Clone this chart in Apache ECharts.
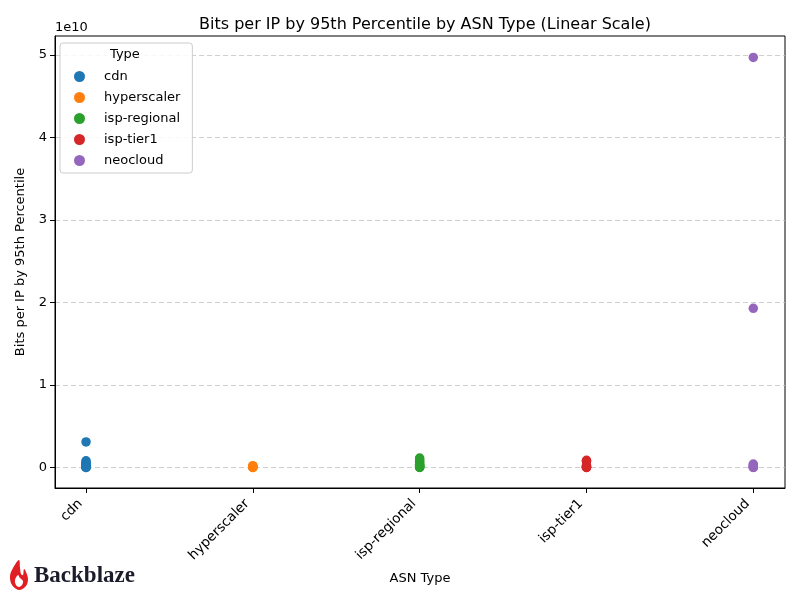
<!DOCTYPE html>
<html><head><meta charset="utf-8">
<script src="https://cdn.jsdelivr.net/npm/echarts@6/dist/echarts.min.js"></script>
<style>html,body{margin:0;padding:0;background:#fff}#c{width:800px;height:600px}</style>
</head><body><div id="c"></div>
<script>
const categories = ['cdn', 'hyperscaler', 'isp-regional', 'isp-tier1', 'neocloud'];
const colors = ['#1f77b4', '#ff7f0e', '#2ca02c', '#d62728', '#9467bd'];
const cdnValues = [3.1e9, 8.2e8, 6.5e8, 5.0e8, 3.6e8, 2.4e8, 1.5e8, 8e7, 4e7, 1.5e7, 5e6];
const hyperscalerValues = [2.2e8, 1.4e8, 8e7, 4e7, 1.5e7, 5e6];
const ispRegionalValues = [1.15e9, 9.5e8, 7.5e8, 5.5e8, 4e8, 2.8e8, 1.8e8, 1e8, 5e7, 2e7, 5e6];
const ispTier1Values = [8.8e8, 7.5e8, 2.5e8, 1.5e8, 8e7, 4e7, 1.5e7, 5e6];
const neocloudValues = [4.97e10, 1.93e10, 4.2e8, 3e8, 1.8e8, 8e7, 2e7, 5e6];
const yTicks = [0, 1e10, 2e10, 3e10, 4e10, 5e10];
const xTicks = [0, 1, 2, 3, 4];

const allValues = [cdnValues, hyperscalerValues, ispRegionalValues, ispTier1Values, neocloudValues];
const font = 'DejaVu Sans';
const chart = echarts.init(document.getElementById('c'), null, {renderer: 'canvas'});
const series = categories.map((name, i) => ({
  name: name,
  type: 'scatter',
  symbolSize: 9.5,
  itemStyle: {color: colors[i], opacity: 1},
  data: allValues[i].map(v => [i, v])
}));
series[0].markLine = {
  silent: true, symbol: 'none', label: {show: false},
  lineStyle: {color: '#c4c4c4', type: [5, 3], width: 0.8},
  data: yTicks.map(v => ({yAxis: v})),
  z: 0
};
chart.setOption({
  animation: false,
  color: colors,
  title: {text: 'Bits per IP by 95th Percentile by ASN Type (Linear Scale)', left: 420, top: 12, textAlign: 'center',
    textStyle: {fontFamily: font, fontSize: 16, fontWeight: 'normal', color: '#000'}},
  grid: {left: 55, right: 15, top: 36, bottom: 112, show: true, borderColor: '#000', borderWidth: 1, containLabel: false},
  legend: {
    orient: 'vertical', left: 60, top: 43, padding: [27, 12, 6, 14],
    borderColor: '#cccccc', borderWidth: 1, borderRadius: 3, backgroundColor: 'rgba(255,255,255,0.85)',
    itemWidth: 11, itemHeight: 11, itemGap: 8, icon: 'circle',
    textStyle: {fontFamily: font, fontSize: 13, color: '#000', padding: [0, 0, 0, 14]},
    data: categories
  },
  xAxis: {
    type: 'value', min: -0.186, max: 4.19,
    name: 'ASN Type', nameLocation: 'middle', nameGap: 84,
    nameTextStyle: {fontFamily: font, fontSize: 13, color: '#000'},
    axisLine: {show: true, onZero: false, lineStyle: {color: '#000'}},
    axisTick: {show: true, length: 5, customValues: xTicks, lineStyle: {color: '#000'}},
    axisLabel: {customValues: xTicks, rotate: 45, fontFamily: font, fontSize: 13.5, color: '#000', margin: 8,
      padding: [0, 8, 0, 0], formatter: v => categories[Math.round(v)]},
    splitLine: {show: false}
  },
  yAxis: {
    type: 'value', min: -2.48e9, max: 5.23e10,
    name: 'Bits per IP by 95th Percentile', nameLocation: 'middle', nameGap: 28,
    nameTextStyle: {fontFamily: font, fontSize: 13, color: '#000'},
    axisLine: {show: true, onZero: false, lineStyle: {color: '#000'}},
    axisTick: {show: true, length: 5, customValues: yTicks, lineStyle: {color: '#000'}},
    axisLabel: {customValues: yTicks, fontFamily: font, fontSize: 13, color: '#000', margin: 8,
      formatter: v => String(Math.round(v / 1e10))},
    splitLine: {show: false}
  },
  graphic: [
    {type: 'text', left: 110, top: 48, z: 100, style: {text: 'Type', fontFamily: font, fontSize: 13, fill: '#000'}},
    {type: 'text', left: 55, top: 21, style: {text: '1e10', fontFamily: font, fontSize: 13, fill: '#000'}},
    {type: 'polygon', shape: {smooth: 0.35, points: [[19,560],[13,568],[10,576],[12,585],[19,590],[26,586],[28,579],[26,572],[24,569],[23,575],[21,574],[20,568]]}, style: {fill: '#e21e25'}},
    {type: 'polygon', shape: {smooth: 0.35, points: [[18,575],[15,580],[16,585],[19,587],[22,585],[23,581],[20,578]]}, style: {fill: '#ffffff'}},
    {type: 'text', left: 34, top: 565, style: {text: 'Backblaze', fontFamily: 'Liberation Serif', fontWeight: 'bold', fontSize: 23, fill: '#1b1b2b'}}
  ],
  series: series
});
</script></body></html>
